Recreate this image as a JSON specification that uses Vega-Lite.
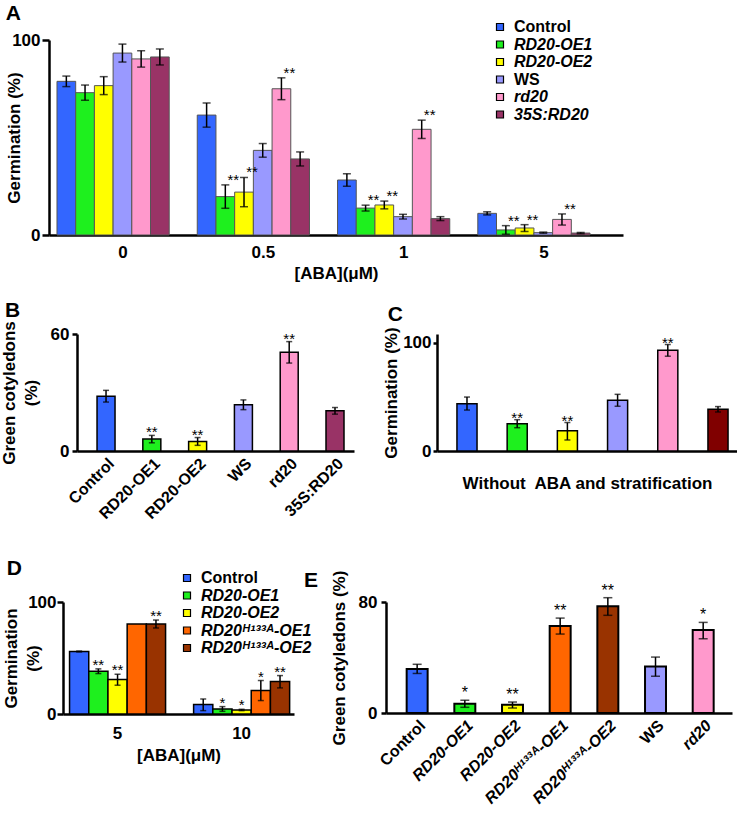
{
  "$schema": "https://vega.github.io/schema/vega-lite/v6.json",
  "background": "white",
  "padding": {"left": 0, "top": 3, "right": 0, "bottom": 0},
  "config": {
    "font": "Liberation Sans",
    "view": {"stroke": null},
    "axis": {"labelFont": "Liberation Sans", "titleFont": "Liberation Sans", "labelFontWeight": "bold", "titleFontWeight": "bold", "labelColor": "black", "titleColor": "black", "domainColor": "black", "tickColor": "black", "grid": false, "labelFontSize": 17, "titleFontSize": 17, "domainWidth": 2.5, "tickWidth": 2.5},
    "title": {"anchor": "start", "fontSize": 21, "fontWeight": "bold", "color": "black", "font": "Liberation Sans"},
    "legend": {"labelFont": "Liberation Sans", "labelColor": "black"}
  },
  "datasets": {
    "A": [
      {"g": "0", "s": "Control", "v": 78.8, "lo": 76.1, "hi": 81.5},
      {"g": "0", "s": "RD20-OE1", "v": 73, "lo": 69.1, "hi": 76.9},
      {"g": "0", "s": "RD20-OE2", "v": 76.6, "lo": 72, "hi": 81.2},
      {"g": "0", "s": "WS", "v": 93.3, "lo": 88.7, "hi": 97.9},
      {"g": "0", "s": "rd20", "v": 90.3, "lo": 86.1, "hi": 94.5},
      {"g": "0", "s": "35S:RD20", "v": 91.3, "lo": 87.2, "hi": 95.4},
      {"g": "0.5", "s": "Control", "v": 61.5, "lo": 55.3, "hi": 67.7},
      {"g": "0.5", "s": "RD20-OE1", "v": 19.7, "lo": 13.7, "hi": 25.7, "star": "**"},
      {"g": "0.5", "s": "RD20-OE2", "v": 22, "lo": 14.5, "hi": 29.5, "star": "**"},
      {"g": "0.5", "s": "WS", "v": 43.4, "lo": 39.9, "hi": 46.9},
      {"g": "0.5", "s": "rd20", "v": 75, "lo": 69.4, "hi": 80.6, "star": "**"},
      {"g": "0.5", "s": "35S:RD20", "v": 39, "lo": 35.4, "hi": 42.6},
      {"g": "1", "s": "Control", "v": 28.2, "lo": 25, "hi": 31.4},
      {"g": "1", "s": "RD20-OE1", "v": 13.8, "lo": 12.3, "hi": 15.3, "star": "**"},
      {"g": "1", "s": "RD20-OE2", "v": 15.4, "lo": 13.4, "hi": 17.4, "star": "**"},
      {"g": "1", "s": "WS", "v": 9.4, "lo": 8.2, "hi": 10.6},
      {"g": "1", "s": "rd20", "v": 54.2, "lo": 49.5, "hi": 58.9, "star": "**"},
      {"g": "1", "s": "35S:RD20", "v": 8.4, "lo": 7.4, "hi": 9.4},
      {"g": "5", "s": "Control", "v": 11.1, "lo": 10.3, "hi": 11.9},
      {"g": "5", "s": "RD20-OE1", "v": 2.6, "lo": 0.4, "hi": 4.8, "star": "**"},
      {"g": "5", "s": "RD20-OE2", "v": 3.6, "lo": 1.8, "hi": 5.3, "star": "**"},
      {"g": "5", "s": "WS", "v": 1.2, "lo": 0.9, "hi": 1.5},
      {"g": "5", "s": "rd20", "v": 8, "lo": 5.1, "hi": 10.8, "star": "**"},
      {"g": "5", "s": "35S:RD20", "v": 1, "lo": 0.7, "hi": 1.3}
    ],
    "B": [
      {"s": "Control", "v": 28.1, "lo": 25.1, "hi": 31.1},
      {"s": "RD20-OE1", "v": 6.1, "lo": 4.2, "hi": 8, "star": "**"},
      {"s": "RD20-OE2", "v": 4.9, "lo": 2.9, "hi": 6.9, "star": "**"},
      {"s": "WS", "v": 23.7, "lo": 21.2, "hi": 26.2},
      {"s": "rd20", "v": 50.6, "lo": 45.1, "hi": 56.1, "star": "**"},
      {"s": "35S:RD20", "v": 20.6, "lo": 18.9, "hi": 22.3}
    ],
    "C": [
      {"s": "Control", "v": 43.7, "lo": 37.8, "hi": 49.8},
      {"s": "RD20-OE1", "v": 25.2, "lo": 21.5, "hi": 28.9, "star": "**"},
      {"s": "RD20-OE2", "v": 18.8, "lo": 10.2, "hi": 26.2, "star": "**"},
      {"s": "WS", "v": 46.8, "lo": 41.3, "hi": 52.3},
      {"s": "rd20", "v": 92.9, "lo": 87.5, "hi": 98.3, "star": "**"},
      {"s": "35S:RD20", "v": 38.5, "lo": 36, "hi": 41}
    ],
    "D": [
      {"g": "5", "t": "Control", "v": 55.8, "lo": 55.4, "hi": 56.2},
      {"g": "5", "t": "RD20-OE1", "v": 38.2, "lo": 36.1, "hi": 40.3, "star": "**"},
      {"g": "5", "t": "RD20-OE2", "v": 30.7, "lo": 25.7, "hi": 35.5, "star": "**"},
      {"g": "5", "t": "RD20ᴴ¹³³ᴬ-OE1", "v": 80.3, "lo": null, "hi": null},
      {"g": "5", "t": "RD20ᴴ¹³³ᴬ-OE2", "v": 80.3, "lo": 76.8, "hi": 83.9, "star": "**"},
      {"g": "10", "t": "Control", "v": 8.4, "lo": 3, "hi": 13.4},
      {"g": "10", "t": "RD20-OE1", "v": 4.5, "lo": 2.4, "hi": 6.6, "star": "*"},
      {"g": "10", "t": "RD20-OE2", "v": 3.6, "lo": 3, "hi": 4.2, "star": "*"},
      {"g": "10", "t": "RD20ᴴ¹³³ᴬ-OE1", "v": 20.9, "lo": 12, "hi": 29.9, "star": "*"},
      {"g": "10", "t": "RD20ᴴ¹³³ᴬ-OE2", "v": 29, "lo": 23.3, "hi": 34.3, "star": "**"}
    ],
    "E": [
      {"s": "Control", "v": 31.8, "lo": 28.5, "hi": 35.1},
      {"s": "RD20-OE1", "v": 6.7, "lo": 4.1, "hi": 9.2, "star": "*"},
      {"s": "RD20-OE2", "v": 6, "lo": 3.6, "hi": 7.9, "star": "**"},
      {"s": "RD20ᴴ¹³³ᴬ-OE1", "v": 62.7, "lo": 56.9, "hi": 68.4, "star": "**"},
      {"s": "RD20ᴴ¹³³ᴬ-OE2", "v": 76.9, "lo": 70.4, "hi": 83.1, "star": "**"},
      {"s": "WS", "v": 33.5, "lo": 26.5, "hi": 40.3},
      {"s": "rd20", "v": 59.8, "lo": 53.5, "hi": 65.3, "star": "*"}
    ],
    "SP": [{}]
  },
  "spacing": 18,
  "resolve": {"scale": {"x": "independent", "y": "independent", "xOffset": "independent", "color": "independent"}, "legend": {"color": "independent"}},
  "vconcat": [
    {
      "spacing": 1,
      "resolve": {"scale": {"x": "independent", "y": "independent", "xOffset": "independent", "color": "independent"}, "legend": {"color": "independent"}},
      "hconcat": [
        {"width": 1, "height": 1, "data": {"name": "SP"}, "mark": {"type": "point", "size": 1, "opacity": 0, "strokeWidth": 0}},
        {
          "width": 574, "height": 195,
          "title": {"text": "A", "offset": -5},
          "data": {"name": "A"},
          "encoding": {
            "x": {"field": "g", "type": "nominal",
                  "scale": {"domain": ["0", "0.5", "1", "5"], "paddingInner": 0.2, "paddingOuter": 0.146, "align": 0.195},
                  "axis": {"title": "[ABA](μM)", "labelAngle": 0, "ticks": false, "labelPadding": 9, "titlePadding": 5, "labelOffset": 10}},
            "xOffset": {"field": "s", "type": "nominal", "scale": {"domain": ["Control", "RD20-OE1", "RD20-OE2", "WS", "rd20", "35S:RD20"], "paddingInner": 0, "paddingOuter": 0}}
          },
          "layer": [
            {"mark": {"type": "bar", "stroke": "#555", "strokeWidth": 1},
             "encoding": {
               "y": {"field": "v", "type": "quantitative", "scale": {"domain": [0, 100], "nice": false},
                     "axis": {"title": "Germination (%)", "values": [0, 100], "tickSize": 7, "labelPadding": 2, "titlePadding": -12}},
               "color": {"field": "s", "type": "nominal",
                         "scale": {"domain": ["Control", "RD20-OE1", "RD20-OE2", "WS", "rd20", "35S:RD20"], "range": ["#3366ff", "#1ef01e", "#ffff00", "#9999ff", "#ff99cc", "#993366"]},
                         "legend": {"orient": "none", "legendX": 443, "legendY": -21, "title": null, "symbolType": "square", "symbolSize": 49, "symbolStrokeColor": "black", "symbolStrokeWidth": 1.2, "labelFontSize": 16, "labelFontWeight": "bold", "rowPadding": 1.5, "labelOffset": 6,
                                    "encoding": {"labels": {"fontStyle": {"condition": {"test": "datum.value === 'Control' || datum.value === 'WS'", "value": "normal"}, "value": "italic"}}}}}
             }},
            {"mark": {"type": "rule", "color": "black", "strokeWidth": 1.5},
             "encoding": {"y": {"field": "lo", "type": "quantitative"}, "y2": {"field": "hi"}}},
            {"mark": {"type": "tick", "color": "black", "thickness": 1.5, "size": 8, "orient": "horizontal"},
             "encoding": {"y": {"field": "lo", "type": "quantitative"}}},
            {"mark": {"type": "tick", "color": "black", "thickness": 1.5, "size": 8, "orient": "horizontal"},
             "encoding": {"y": {"field": "hi", "type": "quantitative"}}},
            {"transform": [{"filter": "datum.star"}],
             "mark": {"type": "text", "fontSize": 15, "baseline": "alphabetic", "dx": 8, "dy": 0, "color": "black"},
             "encoding": {"y": {"field": "hi", "type": "quantitative"}, "text": {"field": "star"}}}
          ]
        }
      ]
    },
    {
      "spacing": 36,
      "resolve": {"scale": {"x": "independent", "y": "independent", "xOffset": "independent", "color": "independent"}, "legend": {"color": "independent"}},
      "vconcat": [
        {
          "spacing": -4,
          "resolve": {"scale": {"x": "independent", "y": "independent", "xOffset": "independent", "color": "independent"}, "legend": {"color": "independent"}},
          "hconcat": [
            {"width": 1, "height": 1, "data": {"name": "SP"}, "mark": {"type": "point", "size": 1, "opacity": 0, "strokeWidth": 0}},
            {
              "spacing": 28,
              "resolve": {"scale": {"x": "independent", "y": "independent", "xOffset": "independent", "color": "independent"}, "legend": {"color": "independent"}},
              "hconcat": [
                {
                  "width": 277, "height": 117,
                  "title": {"text": "B", "offset": 0, "dx": 5},
                  "data": {"name": "B"},
                  "encoding": {
                    "x": {"field": "s", "type": "nominal",
                          "scale": {"domain": ["Control", "RD20-OE1", "RD20-OE2", "WS", "rd20", "35S:RD20"], "paddingInner": 0.607, "paddingOuter": 0.328, "align": 0.667},
                          "axis": {"title": null, "labelAngle": -45, "ticks": false, "labelPadding": 4, "labelFontSize": 16}}
                  },
                  "layer": [
                    {"mark": {"type": "bar", "stroke": "black", "strokeWidth": 1.5},
                     "encoding": {
                       "y": {"field": "v", "type": "quantitative", "scale": {"domain": [0, 60], "nice": false},
                             "axis": {"title": ["Green cotyledons", "(%)"], "values": [0, 60], "tickSize": 5, "labelPadding": 3, "titlePadding": 10, "titleLineHeight": 22}},
                       "color": {"field": "s", "type": "nominal",
                                 "scale": {"domain": ["Control", "RD20-OE1", "RD20-OE2", "WS", "rd20", "35S:RD20"], "range": ["#3366ff", "#1ef01e", "#ffff00", "#9999ff", "#ff99cc", "#993366"]},
                                 "legend": null}
                     }},
                    {"mark": {"type": "rule", "color": "black", "strokeWidth": 1.5},
                     "encoding": {"y": {"field": "lo", "type": "quantitative"}, "y2": {"field": "hi"}}},
                    {"mark": {"type": "tick", "color": "black", "thickness": 1.5, "size": 6, "orient": "horizontal"},
                     "encoding": {"y": {"field": "lo", "type": "quantitative"}}},
                    {"mark": {"type": "tick", "color": "black", "thickness": 1.5, "size": 6, "orient": "horizontal"},
                     "encoding": {"y": {"field": "hi", "type": "quantitative"}}},
                    {"transform": [{"filter": "datum.star"}],
                     "mark": {"type": "text", "fontSize": 15, "baseline": "alphabetic", "dy": 2, "color": "black"},
                     "encoding": {"y": {"field": "hi", "type": "quantitative"}, "text": {"field": "star"}}}
                  ]
                },
                {
                  "width": 300, "height": 117,
                  "title": {"text": "C", "offset": 2, "dx": 5},
                  "data": {"name": "C"},
                  "encoding": {
                    "x": {"field": "s", "type": "nominal",
                          "scale": {"domain": ["Control", "RD20-OE1", "RD20-OE2", "WS", "rd20", "35S:RD20"], "paddingInner": 0.6, "paddingOuter": 0.288, "align": 0.69},
                          "axis": {"title": "Without\u00a0 ABA and stratification", "labels": false, "ticks": false, "titlePadding": 24}}
                  },
                  "layer": [
                    {"mark": {"type": "bar", "stroke": "black", "strokeWidth": 1.5},
                     "encoding": {
                       "y": {"field": "v", "type": "quantitative", "scale": {"domain": [0, 108], "nice": false},
                             "axis": {"title": "Germination (%)", "values": [0, 100], "tickSize": 4, "labelPadding": 2, "titlePadding": 2}},
                       "color": {"field": "s", "type": "nominal",
                                 "scale": {"domain": ["Control", "RD20-OE1", "RD20-OE2", "WS", "rd20", "35S:RD20"], "range": ["#3366ff", "#1ef01e", "#ffff00", "#9999ff", "#ff99cc", "#800000"]},
                                 "legend": null}
                     }},
                    {"mark": {"type": "rule", "color": "black", "strokeWidth": 1.5},
                     "encoding": {"y": {"field": "lo", "type": "quantitative"}, "y2": {"field": "hi"}}},
                    {"mark": {"type": "tick", "color": "black", "thickness": 1.5, "size": 6, "orient": "horizontal"},
                     "encoding": {"y": {"field": "lo", "type": "quantitative"}}},
                    {"mark": {"type": "tick", "color": "black", "thickness": 1.5, "size": 6, "orient": "horizontal"},
                     "encoding": {"y": {"field": "hi", "type": "quantitative"}}},
                    {"transform": [{"filter": "datum.star"}],
                     "mark": {"type": "text", "fontSize": 15, "baseline": "alphabetic", "dy": 3, "color": "black"},
                     "encoding": {"y": {"field": "hi", "type": "quantitative"}, "text": {"field": "star"}}}
                  ]
                }
              ]
            }
          ]
        },
        {
          "spacing": -2,
          "resolve": {"scale": {"x": "independent", "y": "independent", "xOffset": "independent", "color": "independent"}, "legend": {"color": "independent"}},
          "hconcat": [
            {"width": 1, "height": 1, "data": {"name": "SP"}, "mark": {"type": "point", "size": 1, "opacity": 0, "strokeWidth": 0}},
            {
              "spacing": -8,
              "resolve": {"scale": {"x": "independent", "y": "independent", "xOffset": "independent", "color": "independent"}, "legend": {"color": "independent"}},
              "hconcat": [
                {
                  "width": 231, "height": 112,
                  "title": {"text": "D", "offset": -9, "dx": 4},
                  "data": {"name": "D"},
                  "encoding": {
                    "x": {"field": "g", "type": "nominal",
                          "scale": {"domain": ["5", "10"], "paddingInner": 0.226, "paddingOuter": 0.044, "align": 0.6},
                          "axis": {"title": "[ABA](μM)", "labelAngle": 0, "ticks": false, "labelPadding": 11, "titlePadding": 6}},
                    "xOffset": {"field": "t", "type": "nominal", "scale": {"domain": ["Control", "RD20-OE1", "RD20-OE2", "RD20ᴴ¹³³ᴬ-OE1", "RD20ᴴ¹³³ᴬ-OE2"], "paddingInner": 0, "paddingOuter": 0}}
                  },
                  "layer": [
                    {"mark": {"type": "bar", "stroke": "black", "strokeWidth": 1.5},
                     "encoding": {
                       "y": {"field": "v", "type": "quantitative", "scale": {"domain": [0, 100], "nice": false},
                             "axis": {"title": ["Germination", "(%)"], "values": [0, 100], "tickSize": 6, "labelPadding": 1, "titlePadding": -15, "titleLineHeight": 22}},
                       "color": {"field": "t", "type": "nominal",
                                 "scale": {"domain": ["Control", "RD20-OE1", "RD20-OE2", "RD20ᴴ¹³³ᴬ-OE1", "RD20ᴴ¹³³ᴬ-OE2"], "range": ["#3366ff", "#1ef01e", "#ffff00", "#ff6600", "#993300"]},
                                 "legend": {"orient": "none", "legendX": 116, "legendY": -32, "title": null, "symbolType": "square", "symbolSize": 49, "symbolStrokeColor": "black", "symbolStrokeWidth": 1.2, "labelFontSize": 16, "labelFontWeight": "bold", "rowPadding": 1.5, "labelOffset": 6,
                                            "encoding": {"labels": {"fontStyle": {"condition": {"test": "datum.value === 'Control'", "value": "normal"}, "value": "italic"}}}}}
                     }},
                    {"transform": [{"filter": "isValid(datum.lo)"}],
                     "mark": {"type": "rule", "color": "black", "strokeWidth": 1.5},
                     "encoding": {"y": {"field": "lo", "type": "quantitative"}, "y2": {"field": "hi"}}},
                    {"transform": [{"filter": "isValid(datum.lo)"}],
                     "mark": {"type": "tick", "color": "black", "thickness": 1.5, "size": 6, "orient": "horizontal"},
                     "encoding": {"y": {"field": "lo", "type": "quantitative"}}},
                    {"transform": [{"filter": "isValid(datum.hi)"}],
                     "mark": {"type": "tick", "color": "black", "thickness": 1.5, "size": 6, "orient": "horizontal"},
                     "encoding": {"y": {"field": "hi", "type": "quantitative"}}},
                    {"transform": [{"filter": "datum.star"}],
                     "mark": {"type": "text", "fontSize": 15, "baseline": "alphabetic", "dy": 1, "color": "black"},
                     "encoding": {"y": {"field": "hi", "type": "quantitative"}, "text": {"field": "star"}}}
                  ]
                },
                {
                  "width": 346, "height": 111,
                  "title": {"text": "E", "offset": -21, "dx": -26},
                  "data": {"name": "E"},
                  "encoding": {
                    "x": {"field": "s", "type": "nominal",
                          "scale": {"domain": ["Control", "RD20-OE1", "RD20-OE2", "RD20ᴴ¹³³ᴬ-OE1", "RD20ᴴ¹³³ᴬ-OE2", "WS", "rd20"], "paddingInner": 0.56, "paddingOuter": 0.409, "align": 0.53},
                          "axis": {"title": null, "labelAngle": -45, "ticks": false, "labelPadding": 4, "labelFontSize": 16,
                                   "labelFontStyle": {"condition": {"test": "datum.value === 'Control' || datum.value === 'WS'", "value": "normal"}, "value": "italic"}}}
                  },
                  "layer": [
                    {"mark": {"type": "bar", "stroke": "black", "strokeWidth": 2},
                     "encoding": {
                       "y": {"field": "v", "type": "quantitative", "scale": {"domain": [0, 80], "nice": false},
                             "axis": {"title": "Green cotyledons (%)", "values": [0, 80], "tickSize": 5, "labelPadding": 4, "titlePadding": 10}},
                       "color": {"field": "s", "type": "nominal",
                                 "scale": {"domain": ["Control", "RD20-OE1", "RD20-OE2", "RD20ᴴ¹³³ᴬ-OE1", "RD20ᴴ¹³³ᴬ-OE2", "WS", "rd20"], "range": ["#3366ff", "#1ef01e", "#ffff00", "#ff6600", "#993300", "#9999ff", "#ff99cc"]},
                                 "legend": null}
                     }},
                    {"mark": {"type": "rule", "color": "black", "strokeWidth": 1.5},
                     "encoding": {"y": {"field": "lo", "type": "quantitative"}, "y2": {"field": "hi"}}},
                    {"mark": {"type": "tick", "color": "black", "thickness": 1.5, "size": 9, "orient": "horizontal"},
                     "encoding": {"y": {"field": "lo", "type": "quantitative"}}},
                    {"mark": {"type": "tick", "color": "black", "thickness": 1.5, "size": 9, "orient": "horizontal"},
                     "encoding": {"y": {"field": "hi", "type": "quantitative"}}},
                    {"transform": [{"filter": "datum.star"}],
                     "mark": {"type": "text", "fontSize": 16, "baseline": "alphabetic", "dy": -2, "color": "black"},
                     "encoding": {"y": {"field": "hi", "type": "quantitative"}, "text": {"field": "star"}}}
                  ]
                }
              ]
            }
          ]
        }
      ]
    }
  ]
}
